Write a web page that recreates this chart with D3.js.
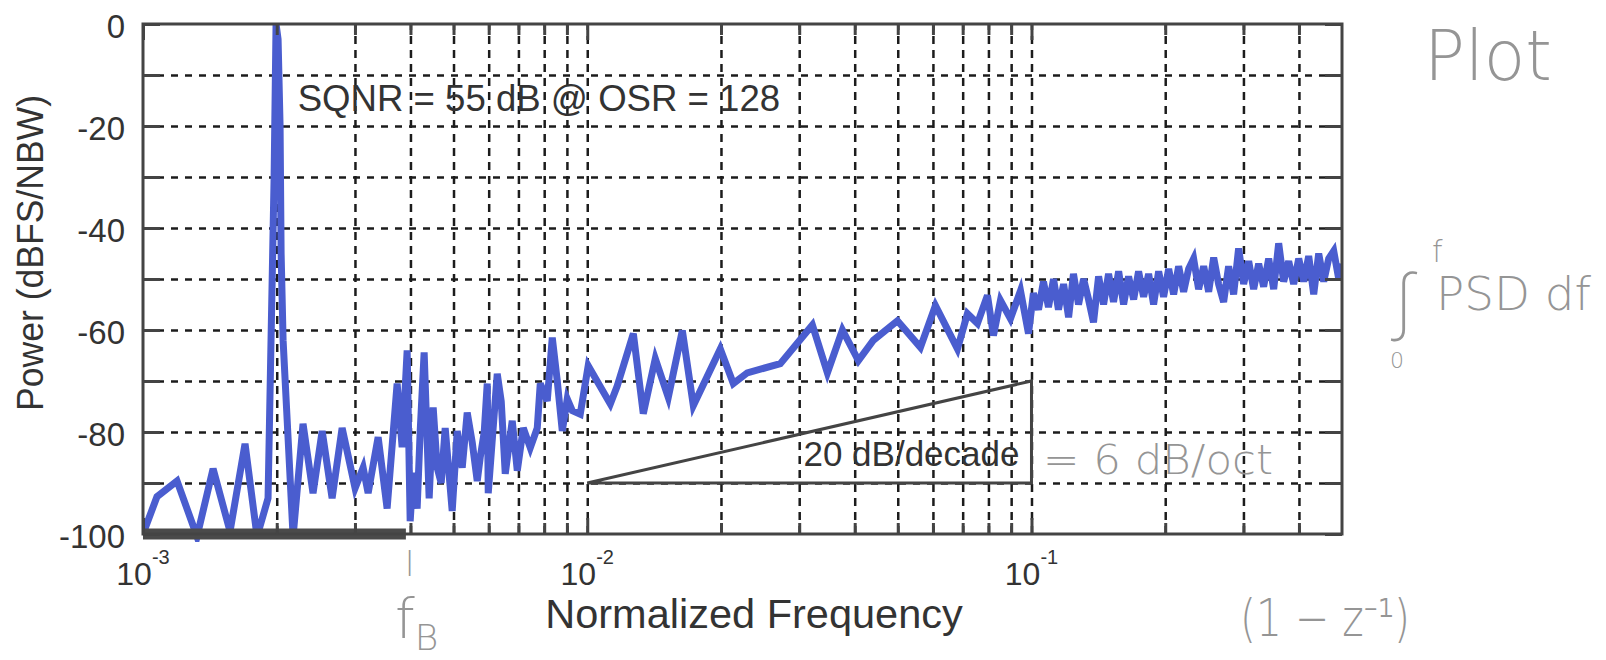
<!DOCTYPE html>
<html>
<head>
<meta charset="utf-8">
<script src="https://cdn.jsdelivr.net/npm/d3@7/dist/d3.min.js"></script>
<style>
  html, body { margin: 0; padding: 0; background: #fff; }
  svg { display: block; }
  text { font-family: "Liberation Sans", Arial, Helvetica, sans-serif; fill: #333; }
  .hand text { font-family: "DejaVu Sans", Roboto, sans-serif; font-weight: 200; fill: #959595; }
</style>
</head>
<body>
<svg id="chart" width="1606" height="660"></svg>
<script>
// output spectrum of the modulator, normalized frequency vs power (dBFS/NBW)
const freq = [
  0.001000, 0.001075, 0.001193, 0.001323, 0.001438, 0.001570, 0.001697, 0.001806, 0.001912,
  0.001973, 0.001993, 0.002014, 0.002035, 0.002046, 0.002067, 0.002177,
  0.002292, 0.002414, 0.002531, 0.002665, 0.002807, 0.003002, 0.003130, 0.003212,
  0.003383, 0.003544, 0.003733, 0.003831, 0.003932, 0.003994, 0.004056, 0.004141, 0.004206,
  0.004294, 0.004407, 0.004500, 0.004594, 0.004691, 0.004789, 0.004966, 0.005097, 0.005231,
  0.005368, 0.005509, 0.005654, 0.005742, 0.005863, 0.005955, 0.005986, 0.006272, 0.006403, 0.006538,
  0.006779, 0.006958, 0.007178, 0.007443, 0.007718, 0.007839, 0.008128, 0.008342, 0.008561,
  0.008786, 0.009016, 0.009253, 0.009644, 0.01005, 0.01127, 0.01168, 0.01270, 0.01337,
  0.01423, 0.01522, 0.01637, 0.01733, 0.01993, 0.02132, 0.02292, 0.02720, 0.03212,
  0.03472, 0.03753, 0.04077, 0.04407, 0.04992, 0.05623, 0.06078, 0.06813, 0.07175,
  0.07557, 0.07959, 0.08210, 0.08514, 0.08967, 0.09446, 0.09846, 0.1010,
  0.1037, 0.1064, 0.1092, 0.1121, 0.1150, 0.1181, 0.1212, 0.1243, 0.1276, 0.1310,
  0.1344, 0.1379, 0.1416, 0.1453, 0.1491, 0.1530, 0.1571, 0.1612, 0.1654, 0.1698,
  0.1742, 0.1788, 0.1835, 0.1883, 0.1933, 0.1983, 0.2036, 0.2089, 0.2144, 0.2200,
  0.2258, 0.2317, 0.2378, 0.2441, 0.2505, 0.2571, 0.2638, 0.2707, 0.2778, 0.2851,
  0.2926, 0.3003, 0.3082, 0.3163, 0.3246, 0.3331, 0.3419, 0.3509, 0.3601, 0.3695,
  0.3793, 0.3892, 0.3995, 0.4100, 0.4207, 0.4318, 0.4431, 0.4548, 0.4667, 0.4790,
  0.4916, 0.5
];
const power = [
  -100, -92.7, -89.6, -100.5, -87.2, -99.5, -82.3, -100.5, -93,
  -30, 0, -3, -20, -45, -62, -100.5,
  -78.4, -92, -79.8, -93, -79.2, -91, -87, -92,
  -81, -95, -70.5, -83, -64, -97.5, -88, -95, -80,
  -64.4, -93, -75.2, -87, -90, -79.2, -95.5, -79.8, -87,
  -76.2, -82, -89.6, -85, -80, -70.5, -92, -68.6, -74, -88.2,
  -77.8, -87.6, -79.2, -83.1, -79.2, -70.5, -73.9, -61.5, -70,
  -79.8, -73.5, -75.8, -76.5, -67, -74.5, -71, -60.7, -76.4,
  -65.6, -73.2, -60.1, -74.8, -63.7, -70.5, -68.4, -66.6, -59,
  -68.4, -60, -66, -62, -58.2, -63.4, -55.2, -63.7, -56.8,
  -58.7, -53.2, -61.1, -54.2, -57.8, -52.3, -60.7, -52.8,
  -56, -50.5, -55.5, -50, -56, -51, -57.5, -49, -55, -50,
  -54, -58.5, -49.5, -55, -49, -54.5, -48.5, -55, -49.5, -54,
  -48.5, -53.5, -49, -55, -48.5, -53.5, -48, -53, -47.5, -52.5,
  -48, -46, -52, -47.5, -52.5, -45.8, -51, -54.5, -47.5, -53,
  -44, -51, -46.5, -52, -47, -51.5, -46, -52, -43, -50.5,
  -46.5, -51, -46, -50.5, -45.5, -53, -45, -50.5, -46, -44.5,
  -50, -47
];

const OSR = 128;
const sqnr = 55;
const fB = 0.5 / OSR;

const yTicks = [-100, -90, -80, -70, -60, -50, -40, -30, -20, -10, 0];
const yLabels = [-100, -80, -60, -40, -20, 0];
const xDecades = [1e-3, 1e-2, 1e-1];
const xExponents = ["-3", "-2", "-1"];
const xMinor = [0.002, 0.003, 0.004, 0.005, 0.006, 0.007, 0.008, 0.009,
                0.02, 0.03, 0.04, 0.05, 0.06, 0.07, 0.08, 0.09,
                0.2, 0.3, 0.4];

// 20 dB/decade reference triangle
const triFreq = [0.01, 0.1, 0.1];
const triPower = [-90, -70, -90];

const svg = d3.select("#chart");
const plotL = 143, plotR = 1342, plotT = 24, plotB = 534;
const x = d3.scaleLog().domain([1e-3, 0.5]).range([plotL, plotR]);
const y = d3.scaleLinear().domain([-100, 0]).range([plotB, plotT]);

const ink = "#444";
const gridInk = "#1c1c1c";

// dashed grid
const gx = svg.append("g")
  .attr("transform", `translate(0,${plotB})`)
  .call(d3.axisBottom(x).tickValues(xDecades.slice(1).concat(xMinor))
    .tickSize(-(plotB - plotT)).tickFormat(""));
gx.select(".domain").remove();
gx.selectAll(".tick line").attr("stroke", gridInk).attr("stroke-width", 2.5).attr("stroke-dasharray", "8,6");

const gy = svg.append("g")
  .attr("transform", `translate(${plotL},0)`)
  .call(d3.axisLeft(y).tickValues(yTicks.slice(1, -1))
    .tickSize(-(plotR - plotL)).tickFormat(""));
gy.select(".domain").remove();
gy.selectAll(".tick line").attr("stroke", gridInk).attr("stroke-width", 2.5).attr("stroke-dasharray", "7,7");

// spectrum trace
svg.append("clipPath").attr("id", "plotClip")
  .append("rect").attr("x", plotL).attr("y", plotT).attr("width", plotR - plotL).attr("height", plotB - plotT + 8);

const line = d3.line().x(d => x(d[0])).y(d => y(d[1]));
svg.append("path")
  .datum(d3.zip(freq, power))
  .attr("clip-path", "url(#plotClip)")
  .attr("d", line)
  .attr("fill", "none")
  .attr("stroke", "#4a5dcf")
  .attr("stroke-width", 7)
  .attr("stroke-linejoin", "miter");

// signal band marker
svg.append("line")
  .attr("x1", x(1e-3)).attr("x2", x(fB))
  .attr("y1", y(-100)).attr("y2", y(-100))
  .attr("stroke", "#4a4a4a").attr("stroke-width", 11);

// slope triangle
svg.append("path")
  .datum(d3.zip(triFreq, triPower))
  .attr("d", d => line(d) + "Z")
  .attr("fill", "none")
  .attr("stroke", "#444")
  .attr("stroke-width", 3);

svg.append("text")
  .attr("x", x(0.1) - 12).attr("y", y(-86.6))
  .attr("text-anchor", "end")
  .attr("font-size", 35)
  .text("20 dB/decade");

svg.append("text")
  .attr("x", x(0.00223)).attr("y", y(-17.1))
  .attr("font-size", 36.6)
  .text(`SQNR = ${sqnr} dB @ OSR = ${OSR}`);

// frame and ticks
svg.append("rect")
  .attr("x", plotL).attr("y", plotT).attr("width", plotR - plotL).attr("height", plotB - plotT)
  .attr("fill", "none").attr("stroke", ink).attr("stroke-width", 3);

function styleTicks(g) {
  g.select(".domain").remove();
  g.attr("font-size", null).attr("font-family", null);
  g.selectAll(".tick line").attr("stroke", ink).attr("stroke-width", 3);
}

svg.append("g").attr("transform", `translate(${plotL},0)`)
  .call(d3.axisLeft(y).tickValues(yTicks).tickSizeInner(-17).tickSizeOuter(0).tickPadding(18)
    .tickFormat(d => yLabels.includes(d) ? d : ""))
  .call(styleTicks)
  .selectAll(".tick text").attr("font-size", 33).attr("dy", "0.42em").attr("fill", "#333");

svg.append("g").attr("transform", `translate(${plotR},0)`)
  .call(d3.axisRight(y).tickValues(yTicks).tickSizeInner(-17).tickSizeOuter(0).tickFormat(""))
  .call(styleTicks);

[["bottom", plotB], ["top", plotT]].forEach(([side, pos]) => {
  const axisFn = side === "bottom" ? d3.axisBottom : d3.axisTop;
  svg.append("g").attr("transform", `translate(0,${pos})`)
    .call(axisFn(x).tickValues(xDecades).tickSizeInner(-16).tickSizeOuter(0).tickFormat(""))
    .call(styleTicks);
  svg.append("g").attr("transform", `translate(0,${pos})`)
    .call(axisFn(x).tickValues(xMinor).tickSizeInner(-11).tickSizeOuter(0).tickFormat(""))
    .call(styleTicks);
});

// decade labels as 10^n
xDecades.forEach((d, i) => {
  const t = svg.append("text")
    .attr("x", x(d)).attr("y", 585)
    .attr("text-anchor", "middle")
    .attr("font-size", 32);
  t.append("tspan").text("10");
  t.append("tspan").attr("font-size", 20).attr("dy", -21).text(xExponents[i]);
});

// axis titles
svg.append("text")
  .attr("x", 754).attr("y", 628)
  .attr("text-anchor", "middle")
  .attr("font-size", 41.5)
  .text("Normalized Frequency");

svg.append("text")
  .attr("transform", "translate(43,253) rotate(-90)")
  .attr("text-anchor", "middle")
  .attr("font-size", 37)
  .attr("textLength", 316)
  .attr("lengthAdjust", "spacingAndGlyphs")
  .text("Power (dBFS/NBW)");

// pencil notes
const notes = svg.append("g").attr("class", "hand");
notes.append("text").attr("x", 1424).attr("y", 80).attr("font-size", 70)
  .attr("textLength", 128).attr("lengthAdjust", "spacingAndGlyphs").text("Plot");
notes.append("text").attr("x", 1432).attr("y", 262).attr("font-size", 30).text("f");
notes.append("text").attr("x", 1396).attr("y", 326).attr("font-size", 72).text("\u222B");
notes.append("text").attr("x", 1436).attr("y", 310).attr("font-size", 46)
  .attr("textLength", 155).attr("lengthAdjust", "spacingAndGlyphs").text("PSD df");
notes.append("text").attr("x", 1390).attr("y", 368).attr("font-size", 22).text("0");
notes.append("text").attr("x", 1043).attr("y", 474).attr("font-size", 40)
  .attr("textLength", 230).attr("lengthAdjust", "spacingAndGlyphs").text("= 6 dB/oct");
notes.append("text").attr("x", 1240).attr("y", 636).attr("font-size", 52)
  .attr("textLength", 170).attr("lengthAdjust", "spacingAndGlyphs").text("(1 \u2212 z\u207B\u00B9)");
notes.append("text").attr("x", 405).attr("y", 576).attr("font-size", 34).text("l");
const fb = notes.append("text").attr("x", 395).attr("y", 638).attr("font-size", 56);
fb.append("tspan").text("f");
fb.append("tspan").attr("font-size", 36).attr("dy", 12).text("B");
</script>
</body>
</html>
